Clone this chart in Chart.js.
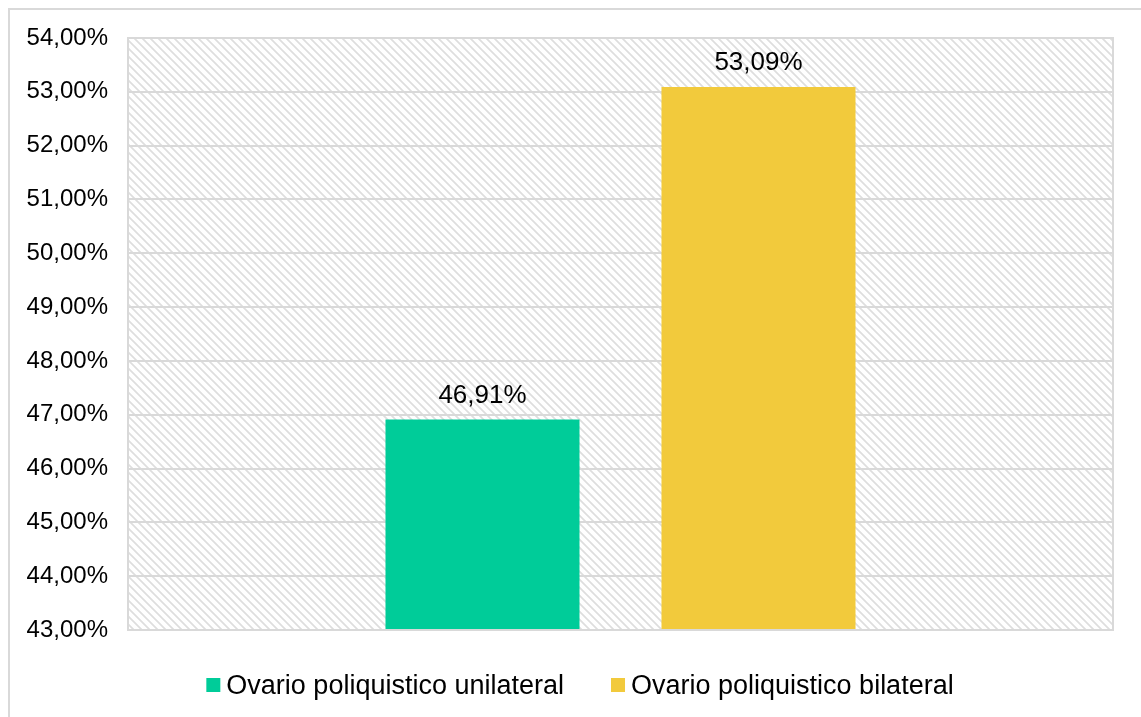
<!DOCTYPE html>
<html>
<head>
<meta charset="utf-8">
<script src="https://cdn.jsdelivr.net/npm/chart.js@4/dist/chart.umd.min.js"></script>
<style>
  html, body { margin: 0; padding: 0; background: #ffffff; }
  #wrap { width: 1141px; height: 717px; position: relative; }
</style>
</head>
<body>
<div id="wrap"><canvas id="chart" width="1141" height="717"></canvas></div>
<script>
// Data
const categories = [''];
const seriesNames = ['Ovario poliquistico unilateral', 'Ovario poliquistico bilateral'];
const seriesValues = [46.91, 53.09];
const seriesColors = ['#00cc99', '#f2ca3c'];
const yMin = 43;
const yMax = 54;
const yStep = 1;

const FONT = '"Liberation Sans", Arial, sans-serif';
const fmtPct = v => v.toFixed(2).replace('.', ',') + '%';

// Diagonal hatch used as the plot-area background
function makeHatch() {
  const t = document.createElement('canvas');
  t.width = 8; t.height = 8;
  const c = t.getContext('2d');
  c.fillStyle = '#ffffff';
  c.fillRect(0, 0, 8, 8);
  c.strokeStyle = '#dedede';
  c.lineWidth = 1.7;
  c.beginPath();
  c.moveTo(-2, -2); c.lineTo(10, 10);
  c.moveTo(-2, 6); c.lineTo(2, 10);
  c.moveTo(6, -2); c.lineTo(10, 2);
  c.stroke();
  return t;
}

const framePlugin = {
  id: 'frame',
  beforeDraw(chart) {
    const ctx = chart.ctx;
    const a = chart.chartArea;
    ctx.save();
    ctx.fillStyle = '#ffffff';
    ctx.fillRect(0, 0, chart.width, chart.height);
    // outer frame
    ctx.strokeStyle = '#d9d9d9';
    ctx.lineWidth = 2;
    ctx.strokeRect(9, 9, chart.width + 20, chart.height + 20);
    // hatched plot area
    ctx.fillStyle = ctx.createPattern(makeHatch(), 'repeat');
    ctx.fillRect(a.left, a.top, a.right - a.left, a.bottom - a.top);
    ctx.restore();
  },
  afterDatasetsDraw(chart) {
    const ctx = chart.ctx;
    const a = chart.chartArea;
    ctx.save();
    // plot-area border
    ctx.strokeStyle = '#d9d9d9';
    ctx.lineWidth = 2;
    ctx.strokeRect(a.left, a.top, a.right - a.left, a.bottom - a.top);
    // value labels above bars
    ctx.fillStyle = '#000000';
    ctx.font = '26px ' + FONT;
    ctx.textAlign = 'center';
    ctx.textBaseline = 'alphabetic';
    chart.data.datasets.forEach((ds, i) => {
      const bar = chart.getDatasetMeta(i).data[0];
      ctx.fillText(fmtPct(ds.data[0]), bar.x, bar.y - 17);
    });
    ctx.restore();
  },
  afterDraw(chart) {
    // legend row under the plot
    const ctx = chart.ctx;
    ctx.save();
    ctx.font = '27px ' + FONT;
    const box = 14, gap = 6, itemGap = 47;
    const widths = seriesNames.map(n => ctx.measureText(n).width);
    const total = widths.reduce((s, w) => s + box + gap + w, 0) + itemGap * (seriesNames.length - 1);
    let x = 580 - total / 2;
    const cy = 686;
    ctx.textBaseline = 'middle';
    ctx.textAlign = 'left';
    seriesNames.forEach((n, i) => {
      ctx.fillStyle = seriesColors[i];
      ctx.fillRect(x, cy - 8, box, box);
      ctx.fillStyle = '#000000';
      ctx.fillText(n, x + box + gap, cy + 1);
      x += box + gap + widths[i] + itemGap;
    });
    ctx.restore();
  }
};

new Chart(document.getElementById('chart'), {
  type: 'bar',
  data: {
    labels: categories,
    datasets: seriesNames.map((name, i) => ({
      label: name,
      data: [seriesValues[i]],
      backgroundColor: seriesColors[i],
      borderWidth: 0,
      categoryPercentage: 0.5604,
      barPercentage: 0.703
    }))
  },
  options: {
    responsive: false,
    animation: false,
    devicePixelRatio: 1,
    layout: { padding: { left: 0, top: 38, right: 28, bottom: 87 } },
    plugins: {
      legend: { display: false },
      tooltip: { enabled: false }
    },
    scales: {
      x: { display: false },
      y: {
        min: yMin,
        max: yMax,
        grid: { color: '#d9d9d9', lineWidth: 2, drawTicks: false },
        border: { display: false },
        ticks: {
          stepSize: yStep,
          padding: 20,
          color: '#000000',
          font: { family: FONT, size: 24 },
          callback: v => fmtPct(v)
        },
        afterFit(scale) {
          scale.width = 128;
          scale.paddingTop = 0;
          scale.paddingBottom = 0;
        }
      }
    }
  },
  plugins: [framePlugin]
});
</script>
</body>
</html>
